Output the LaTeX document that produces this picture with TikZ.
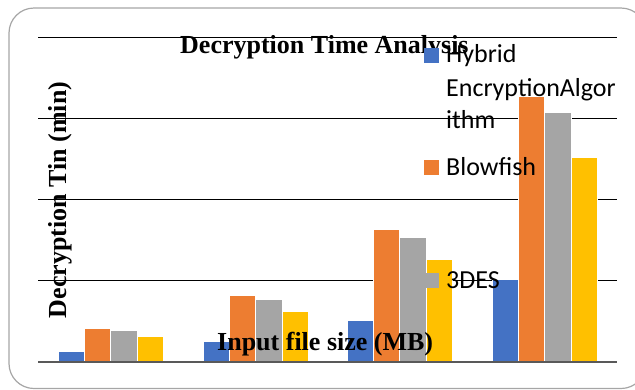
\documentclass[tikz,border=0pt]{standalone}
\usepackage{fontspec}
\setmainfont{Liberation Serif}
\newfontfamily\legfont{Carlito}
\definecolor{cblue}{HTML}{4472C4}
\definecolor{corange}{HTML}{ED7D31}
\definecolor{cgray}{HTML}{A5A5A5}
\definecolor{cyellow}{HTML}{FFC000}
\definecolor{cborder}{HTML}{A6A6A6}
\definecolor{caxis}{HTML}{595959}
\begin{document}
\begin{tikzpicture}[x=1bp,y=-1bp,
  gridline/.style={black,line width=0.9bp},
  axisline/.style={caxis,line width=1.4bp},
  bar/.style={draw=white,line width=0.4bp},
  lbl/.style={font=\bfseries\fontsize{26bp}{30bp}\selectfont,inner sep=0pt},
  legtext/.style={font=\legfont\fontsize{26bp}{33bp}\selectfont,inner sep=0pt,anchor=base west,text=black},
  legbox/.style={minimum size=14.5bp,inner sep=0pt,anchor=north west}]
\useasboundingbox (0,0) rectangle (635,389);
\begin{scope}
  \clip (0,0) rectangle (635,389);
  \draw[cborder,line width=1.2bp,rounded corners=25bp] (9,8) rectangle (646,388.5);
\end{scope}
% gridlines
\foreach \y in {37,118,199,280} \draw[gridline] (38,\y) -- (617,\y);
% bars
\foreach \g/\a/\b/\c/\d in {58/351/328/330/336, 203/341/295/299/311, 347/320/229/237/259, 492/279/96/112/157} {
  \fill[bar,fill=cblue]   (\g,362) rectangle ({\g+26.3},\a);
  \fill[bar,fill=corange] ({\g+26.3},362) rectangle ({\g+52.6},\b);
  \fill[bar,fill=cgray]   ({\g+52.6},362) rectangle ({\g+78.9},\c);
  \fill[bar,fill=cyellow] ({\g+78.9},362) rectangle ({\g+105.2},\d);
}
\draw[axisline] (38,362) -- (617,362);
% labels
\node[lbl,anchor=base west] (title) at (180,53) {Decryption Time Analysis};
\node[lbl,anchor=base,rotate=90] (ylab) at (66,200) {Decryption Tin (min)};
\node[lbl,anchor=base west] (xlab) at (217,350) {Input file size (MB)};
% legend
\node[legbox,fill=cblue] (k1) at (424,48) {};
\node[legtext] (t1a) at (446,62) {Hybrid};
\node[legtext] (t1b) at (446,96) {EncryptionAlgor};
\node[legtext] (t1c) at (446,128) {ithm};
\node[legbox,fill=corange] (k2) at (424,160) {};
\node[legtext] (t2) at (446,175) {Blowfish};
\node[legbox,fill=cgray] (k3) at (424,273) {};
\node[legtext] (t3) at (446,288) {3DES};
\end{tikzpicture}
\end{document}
